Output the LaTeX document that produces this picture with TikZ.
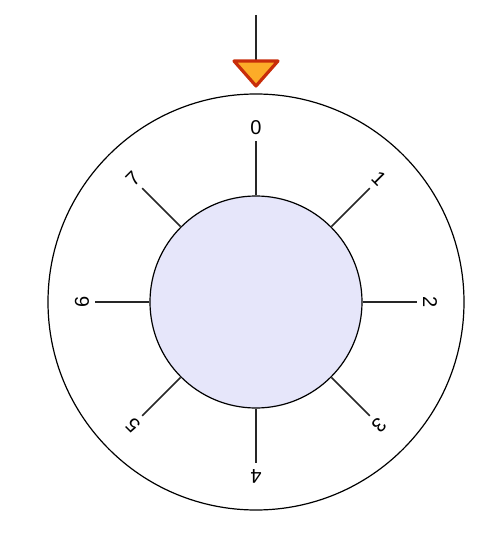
\documentclass[tikz,border=0pt]{standalone}
\usepackage{fontspec}
\setmainfont{Liberation Sans}
\definecolor{hubfill}{RGB}{230,230,250}
\definecolor{feedred}{RGB}{200,45,10}
\definecolor{feedorange}{RGB}{252,172,40}
\tikzset{
  spoke/.style={line width=1.6pt, color=black!85},
  portlabel/.style={font=\fontsize{20}{24}\selectfont, inner sep=0pt}
}

\begin{document}
\begin{tikzpicture}[x=1pt,y=1pt]
		%%%%% START %%%%%
		\useasboundingbox (-256,-239) rectangle (244,302);
		
		\node[circle, draw, line width=1.2pt, minimum size=416pt, inner sep=0pt] (rim) at (0,0) {};
		\node[circle, draw, line width=1.2pt, fill=hubfill, minimum size=212pt, inner sep=0pt] (hub) at (0,0) {};
		
		\foreach \k in {0,...,7}{
			\pgfmathsetmacro\ang{90-45*\k}
			\coordinate (tip\k) at (\ang:161);
			\draw[spoke] (hub.\ang) -- (tip\k);
			\node[portlabel, rotate=-45*\k] (lab\k) at (\ang:174) {\k};
		}
		
		% feed at the top
		\coordinate (feedtop) at (0,287);
		\coordinate (feedbase) at (0,242);
		\draw[line width=1.6pt, color=black!85] (feedtop) -- (feedbase);
		\draw[line width=3.2pt, color=feedred, fill=feedorange, line join=round] (-22,241) -- (22,241) -- (0,216) -- cycle;
		
		%%%%% END %%%%%
\end{tikzpicture}
\end{document}
